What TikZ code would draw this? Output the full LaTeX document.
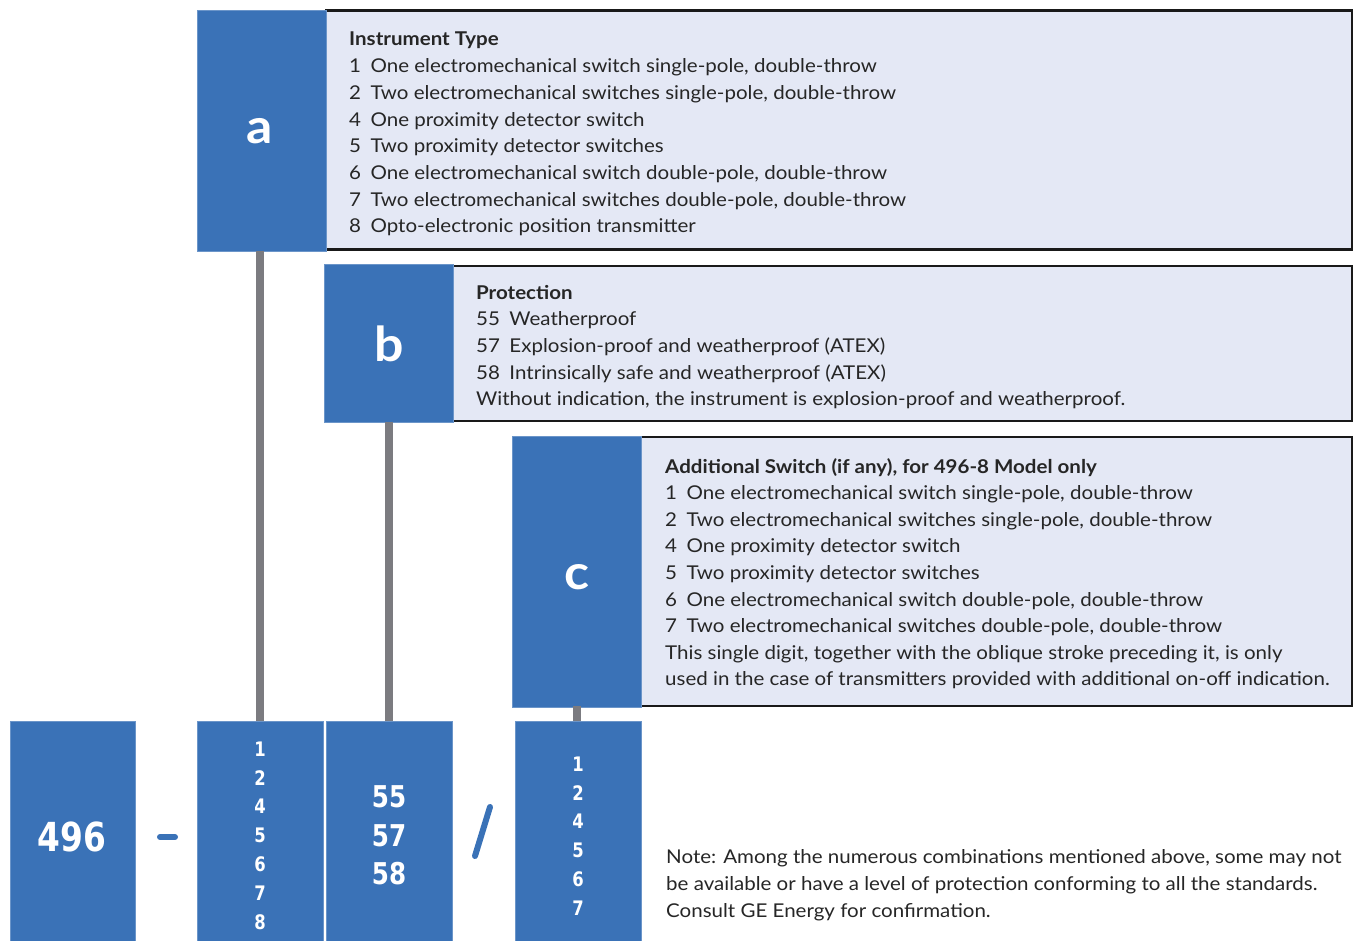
\documentclass[tikz,border=0pt]{standalone}
\usepackage{fontspec}
\setmainfont{Lato}[FakeStretch=1.08]
\newfontfamily\digitfont[FakeStretch=0.82]{DejaVu Sans}
\definecolor{geblue}{HTML}{3A72B7}
\definecolor{gepanel}{HTML}{E4E8F5}
\definecolor{gegray}{HTML}{7B7B80}
\begin{document}
\begin{tikzpicture}[x=1pt,y=-1pt,
  bluebox/.style={fill=geblue,draw=geblue!75!white,line width=0.8pt,inner sep=0pt,outer sep=0pt,anchor=north west,text=white},
  panel/.style={fill=gepanel,draw=black!90,line width=2.4pt,inner sep=0pt,outer sep=0pt,anchor=north west},
  conn/.style={draw=gegray,line width=8.5pt},
  txt/.style={inner sep=0pt,anchor=base west,font=\fontsize{19}{23}\selectfont,text=black!85},
  bigletter/.style={font=\fontsize{48}{50}\selectfont\bfseries,text=white,inner sep=0pt},
  codedigit/.style={text=white,inner sep=0pt}]
\useasboundingbox (0,0) rectangle (1354,941);
% panels
\node[panel,minimum width=1026,minimum height=239] (pa) at (326,10.5) {};
\node[panel,minimum width=899,minimum height=155] (pb) at (453,266) {};
\node[panel,minimum width=711,minimum height=269] (pc) at (641,437) {};
% blue label boxes
\node[bluebox,minimum width=129,minimum height=241] (a) at (197,10) {};
\node[bluebox,minimum width=129,minimum height=158] (b) at (324,264.5) {};
\node[bluebox,minimum width=129,minimum height=271] (c) at (512,436) {};
\node[bigletter] (la) at (259.5,131) {a};
\node[bigletter] (lb) at (389,343.5) {b};
\node[bigletter] (lc) at (577,577) {c};
% bottom boxes
\node[bluebox,minimum width=125,minimum height=221] (m) at (10,721) {};
\node[bluebox,minimum width=126,minimum height=221] (d1) at (197,721) {};
\node[bluebox,minimum width=126,minimum height=221] (d2) at (326,721) {};
\node[bluebox,minimum width=126,minimum height=221] (d3) at (515,721) {};
% connectors
\draw[conn] (260,251) coordinate (ca) -- (ca |- d1.north);
\draw[conn] (389,422) coordinate (cb) -- (cb |- d2.north);
\draw[conn] (577,706) coordinate (cc) -- (cc |- d3.north);
% separators
\draw[line width=6pt,line cap=round,geblue] (160,837) -- (175,837);
\draw[line width=6pt,line cap=round,geblue] (475,856) -- (490,807);
% model number and codes
\node[codedigit,font=\digitfont\bfseries\fontsize{40}{40}\selectfont] (t496) at (72,837) {496};
\foreach \d [count=\i from 0] in {1,2,4,5,6,7,8}
  \node[codedigit,font=\digitfont\bfseries\fontsize{20}{20}\selectfont] (da\i) at (260,749+28.8*\i) {\d};
\foreach \d [count=\i from 0] in {55,57,58}
  \node[codedigit,font=\digitfont\bfseries\fontsize{30}{30}\selectfont] (db\i) at (389,797+38.5*\i) {\d};
\foreach \d [count=\i from 0] in {1,2,4,5,6,7}
  \node[codedigit,font=\digitfont\bfseries\fontsize{20}{20}\selectfont] (dc\i) at (578,764+28.8*\i) {\d};
% panel texts
\foreach \t [count=\i from 0] in {{\bfseries Instrument Type},
  {1\enspace One electromechanical switch single-pole, double-throw},
  {2\enspace Two electromechanical switches single-pole, double-throw},
  {4\enspace One proximity detector switch},
  {5\enspace Two proximity detector switches},
  {6\enspace One electromechanical switch double-pole, double-throw},
  {7\enspace Two electromechanical switches double-pole, double-throw},
  {8\enspace Opto-electronic position transmitter}}
  \node[txt] (ta\i) at (349,46+26.67*\i) {\t};
\foreach \t [count=\i from 0] in {{\bfseries Protection},
  {55\enspace Weatherproof},
  {57\enspace Explosion-proof and weatherproof (ATEX)},
  {58\enspace Intrinsically safe and weatherproof (ATEX)},
  {Without indication, the instrument is explosion-proof and weatherproof.}}
  \node[txt] (tb\i) at (476,299+26.67*\i) {\t};
\foreach \t [count=\i from 0] in {{\bfseries Additional Switch (if any), for 496-8 Model only},
  {1\enspace One electromechanical switch single-pole, double-throw},
  {2\enspace Two electromechanical switches single-pole, double-throw},
  {4\enspace One proximity detector switch},
  {5\enspace Two proximity detector switches},
  {6\enspace One electromechanical switch double-pole, double-throw},
  {7\enspace Two electromechanical switches double-pole, double-throw},
  {This single digit, together with the oblique stroke preceding it, is only},
  {used in the case of transmitters provided with additional on-off indication.}}
  \node[txt] (tc\i) at (665,473+26.6*\i) {\t};
\foreach \t [count=\i from 0] in {{Note: Among the numerous combinations mentioned above, some may not},
  {be available or have a level of protection conforming to all the standards.},
  {Consult GE Energy for confirmation.}}
  \node[txt] (tn\i) at (666,863+27*\i) {\t};
\end{tikzpicture}
\end{document}
